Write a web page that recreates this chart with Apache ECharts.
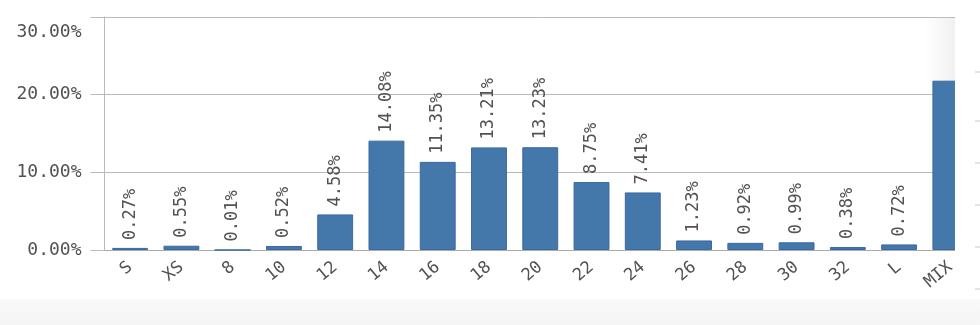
<!DOCTYPE html>
<html>
<head>
<meta charset="utf-8">
<script src="https://cdn.jsdelivr.net/npm/echarts@6/dist/echarts.min.js"></script>
<style>html,body{margin:0;padding:0;background:#fff;}#c{width:980px;height:325px;}</style>
</head>
<body>
<div id="c"></div>
<script>
const categories = ['S','XS','8','10','12','14','16','18','20','22','24','26','28','30','32','L','MIX'];
const shares = [0.27,0.55,0.01,0.52,4.58,14.08,11.35,13.21,13.23,8.75,7.41,1.23,0.92,0.99,0.38,0.72,21.80];
const yTicks = [0,10,20,30];
const rightTicksY = [72,121,163,205,247,289];

const chart = echarts.init(document.getElementById('c'), null, {renderer:'canvas'});
const font = 'DejaVu Sans Mono';
const txt = '#525252';
const graphics = [
  {type:'rect', shape:{x:0,y:299,width:980,height:26}, style:{fill:new echarts.graphic.LinearGradient(0,0,0,1,[{offset:0,color:'#f9f9f9'},{offset:1,color:'#f5f5f5'}])}, z:-1, silent:true},
  {type:'rect', shape:{x:925,y:18,width:30,height:66}, style:{fill:new echarts.graphic.LinearGradient(0,0,1,0,[{offset:0,color:'rgba(240,240,240,0)'},{offset:1,color:'rgba(240,240,240,1)'}])}, z:-1, silent:true},
  {type:'rect', shape:{x:955,y:0,width:25,height:299}, style:{fill:'#ffffff'}, z:100, silent:true}
];
rightTicksY.forEach(y=>graphics.push({type:'line', shape:{x1:975,y1:y,x2:980,y2:y}, style:{stroke:'#c8c8c8',lineWidth:1}, z:102, silent:true}));

chart.setOption({
  animation:false,
  grid:{left:104.5, right:4, top:17, bottom:75, containLabel:false},
  xAxis:{
    type:'category', data:categories,
    axisLine:{show:true, lineStyle:{color:'#aaaaaa', width:1}},
    axisTick:{show:false},
    axisLabel:{rotate:40, margin:15, interval:0, fontFamily:font, fontSize:17, color:txt}
  },
  yAxis:{
    type:'value', min:yTicks[0], max:yTicks[yTicks.length-1], interval:10,
    axisLine:{show:true, lineStyle:{color:'#bbbbbb'}},
    axisTick:{show:true, length:14, lineStyle:{color:'#bbbbbb'}},
    splitLine:{show:true, lineStyle:{color:'#bbbbbb', width:1}},
    axisLabel:{margin:23, fontFamily:font, fontSize:18, color:txt,
      formatter:v=>v===yTicks[yTicks.length-1] ? '{top|'+v.toFixed(2)+'%}' : v.toFixed(2)+'%',
      rich:{top:{fontFamily:font, fontSize:18, color:txt, padding:[30,0,0,0]}}}
  },
  series:[{
    type:'bar', data:shares.map((v,i)=>({value:v, label:{show:categories[i]!=='MIX'}})),
    barCategoryGap:'30%',
    itemStyle:{color:'#4477aa', borderColor:'#3a6aa0', borderWidth:1},
    label:{show:true, position:'top', rotate:90, align:'left', verticalAlign:'middle', distance:8,
      fontFamily:font, fontSize:17, color:txt, formatter:p=>p.value.toFixed(2)+'%'}
  }],
  graphic:graphics
});
</script>
</body>
</html>
